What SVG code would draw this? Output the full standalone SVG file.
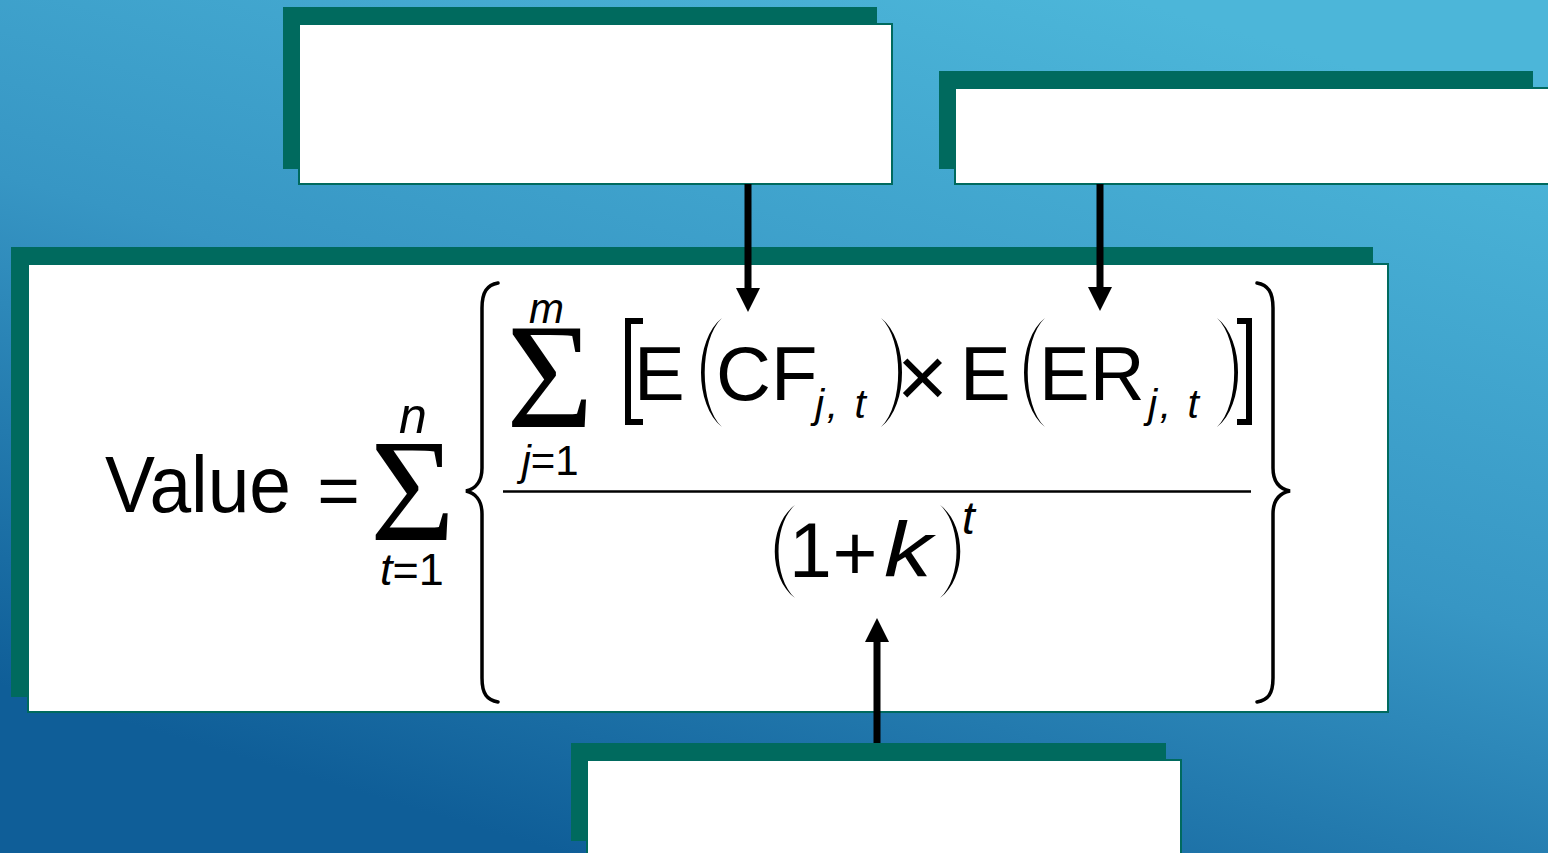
<svg xmlns="http://www.w3.org/2000/svg" width="1548" height="853" viewBox="0 0 1548 853">
<defs>
<linearGradient id="bg" gradientUnits="userSpaceOnUse" x1="1000" y1="-40" x2="720" y2="900">
<stop offset="0" stop-color="#4CB6D9"/>
<stop offset="0.5" stop-color="#3796C4"/>
<stop offset="1" stop-color="#0F5E98"/>
</linearGradient>
<marker id="ah" markerUnits="userSpaceOnUse" markerWidth="24" markerHeight="24" viewBox="0 0 24 24" refX="2" refY="12" orient="auto">
<path d="M0,0 L24,12 L0,24 Z" fill="#000"/>
</marker>
</defs>
<style>
.shadow{fill:#006A5E;}
.card{fill:#ffffff;stroke:#006A5E;stroke-width:2;}
.m{font-family:"Liberation Sans",Arial,sans-serif;fill:#000;}
.i{font-style:italic;}
.sig{font-family:"Liberation Serif","Times New Roman",serif;fill:#000;}
.delim{fill:#000;}
.brace{fill:none;stroke:#000;stroke-width:3.5;stroke-linecap:round;}
.brk{fill:none;stroke:#000;stroke-width:6;stroke-linejoin:miter;}
.conn{stroke:#000;stroke-width:7;fill:none;}
</style>
<rect x="0" y="0" width="1548" height="853" fill="url(#bg)"/>

<g id="box-top-left">
<rect class="shadow" x="283" y="7" width="594" height="162"/>
<rect class="card" x="299" y="24" width="593" height="160"/>
</g>

<g id="box-top-right">
<rect class="shadow" x="939" y="71" width="594" height="98"/>
<rect class="card" x="955" y="88" width="595" height="96"/>
</g>

<g id="box-bottom">
<rect class="shadow" x="571" y="743" width="595" height="98"/>
<rect class="card" x="587" y="760" width="594" height="100"/>
</g>

<g id="box-formula">
<rect class="shadow" x="11" y="247" width="1362" height="450"/>
<rect class="card" x="28" y="264" width="1360" height="448"/>

<text class="m" x="105" y="512" font-size="80" textLength="186" lengthAdjust="spacingAndGlyphs">Value</text>
<text class="m" x="338.5" y="515" font-size="73" text-anchor="middle">=</text>

<text class="sig" x="412.5" y="540" font-size="146" text-anchor="middle">Σ</text>
<text class="m i" x="413" y="433" font-size="50" text-anchor="middle">n</text>
<text class="m" x="412" y="585" font-size="45" text-anchor="middle"><tspan class="i">t</tspan>=1</text>

<path class="brace" d="M498,283 C487,285 482,292 482,308 L482,468 C482,482 475,489 466,491 C475,493 482,500 482,514 L482,678 C482,694 487,700 498,702"/>
<path class="brace" d="M1257,283 C1268,285 1273,292 1273,308 L1273,468 C1273,482 1280,489 1290,491 C1280,493 1273,500 1273,514 L1273,678 C1273,694 1268,700 1257,702"/>

<text class="sig" x="550" y="427" font-size="150" text-anchor="middle">Σ</text>
<text class="m i" x="546.5" y="323" font-size="42" text-anchor="middle">m</text>
<text class="m" x="550" y="475" font-size="42" text-anchor="middle"><tspan class="i">j</tspan>=1</text>

<path class="brk" d="M643,321 L628,321 L628,422 L643,422"/>
<text class="m" x="634" y="400" font-size="76">E</text>
<path class="delim" d="M722,318 C694,340 694,405 722,427 C699,405 699,340 722,318 Z"/>
<text class="m" x="716" y="400" font-size="76">CF</text>
<text class="m i" x="815" y="418" font-size="41" textLength="51" lengthAdjust="spacing">j, t</text>
<path class="delim" d="M881,318 C909,340 909,405 881,427 C904,405 904,340 881,318 Z"/>
<text class="m" x="922.5" y="407" font-size="88" text-anchor="middle">×</text>
<text class="m" x="960" y="400" font-size="76">E</text>
<path class="delim" d="M1045,318 C1017,340 1017,405 1045,427 C1022,405 1022,340 1045,318 Z"/>
<text class="m" x="1039" y="400" font-size="76">ER</text>
<text class="m i" x="1148" y="418" font-size="41" textLength="51" lengthAdjust="spacing">j, t</text>
<path class="delim" d="M1217,318 C1245,340 1245,405 1217,427 C1240,405 1240,340 1217,318 Z"/>
<path class="brk" d="M1237,321 L1249,321 L1249,422 L1237,422"/>

<line x1="503" y1="491.5" x2="1251" y2="491.5" stroke="#000" stroke-width="2.5"/>

<path class="delim" d="M795,505 C768,525 768,578 795,598 C773,578 773,525 795,505 Z"/>
<text class="m" x="789" y="577" font-size="77">1</text>
<text class="m" x="855" y="580" font-size="77" text-anchor="middle">+</text>
<text class="m i" x="884" y="577" font-size="77" textLength="48" lengthAdjust="spacingAndGlyphs">k</text>
<path class="delim" d="M940,505 C967,525 967,578 940,598 C962,578 962,525 940,505 Z"/>
<text class="m i" x="962" y="534" font-size="46">t</text>
</g>

<g id="connectors">
<line class="conn" x1="748" y1="184" x2="748" y2="290" marker-end="url(#ah)"/>
<line class="conn" x1="1100" y1="184" x2="1100" y2="289" marker-end="url(#ah)"/>
<line class="conn" x1="877" y1="743" x2="877" y2="640" marker-end="url(#ah)"/>
</g>
</svg>
